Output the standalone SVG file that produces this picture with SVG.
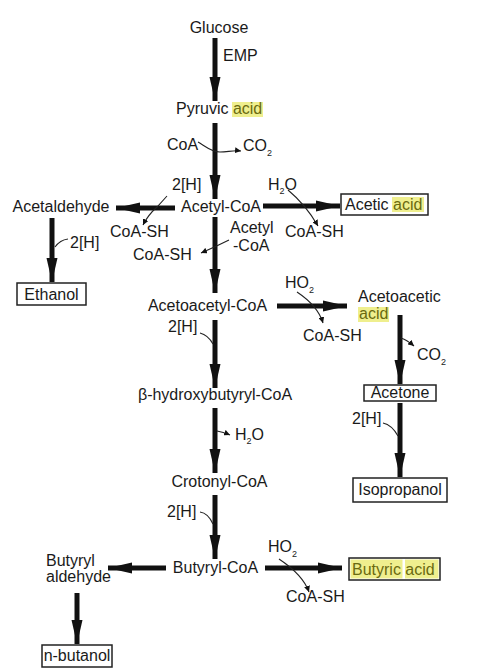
<svg xmlns="http://www.w3.org/2000/svg" width="479" height="670" viewBox="0 0 479 670">
<defs>
<marker id="big" markerUnits="userSpaceOnUse" markerWidth="26" markerHeight="12" refX="24" refY="6" orient="auto">
<path d="M0,0.5 L24,6 L0,11.5 Z" fill="#111"/>
</marker>
<marker id="small" markerUnits="userSpaceOnUse" markerWidth="7" markerHeight="6" refX="6" refY="3" orient="auto">
<path d="M0,0 L6,3 L0,6 Z" fill="#111"/>
</marker>
<style>
text{font-family:"Liberation Sans",Arial,sans-serif;font-size:16px;fill:#1a1a1a}
.sub{font-size:9px}
.hl{fill:#6a6a10}
.hb{fill:#efef8e}
.box{fill:#fff;stroke:#222;stroke-width:1.5}
.main{stroke:#111;stroke-width:5;fill:none;marker-end:url(#big)}
.thin{stroke:#222;stroke-width:1.1;fill:none;marker-end:url(#small)}
.thinn{stroke:#222;stroke-width:1.1;fill:none}
</style>
</defs>
<rect width="479" height="670" fill="#fff"/>

<g id="connectors">
<line class="main" x1="215" y1="38" x2="215" y2="101"/>
<line class="main" x1="215" y1="123" x2="215" y2="199"/>
<line class="main" x1="175" y1="208" x2="116" y2="208"/>
<line class="main" x1="263" y1="206" x2="340" y2="206"/>
<line class="main" x1="52" y1="218" x2="52" y2="282"/>
<line class="main" x1="215" y1="217" x2="215" y2="293"/>
<line class="main" x1="277" y1="306" x2="347" y2="306"/>
<line class="main" x1="215" y1="320" x2="215" y2="388"/>
<line class="main" x1="400" y1="315" x2="400" y2="384"/>
<line class="main" x1="400" y1="403" x2="400" y2="477"/>
<line class="main" x1="215" y1="408" x2="215" y2="473"/>
<line class="main" x1="215" y1="495" x2="215" y2="559"/>
<line class="main" x1="166" y1="568" x2="108" y2="568"/>
<line class="main" x1="265" y1="568" x2="342" y2="568"/>
<line class="main" x1="77" y1="593" x2="77" y2="644"/>

<path class="thin" d="M198,142 C205,146 211,152 220,152 C228,152 233,150 241,151"/>
<path class="thin" d="M167,196 L157,207 Q148,215 143,225"/>
<path class="thin" d="M288,190 Q306,205 318,226"/>
<path class="thin" d="M229,240 Q215,247 201,253"/>
<path class="thinn" d="M68,239 Q60,240 55,247"/>
<path class="thin" d="M297,292 Q318,306 323,323"/>
<path class="thin" d="M401,338 Q407,340 414,346"/>
<path class="thinn" d="M200,333 Q208,335 213,344"/>
<path class="thin" d="M217,431 Q223,432 230,435"/>
<path class="thinn" d="M383,423 Q392,425 398,436"/>
<path class="thinn" d="M200,512 Q208,513 213,524"/>
<path class="thin" d="M279,559 Q303,575 309,592"/>
</g>

<g id="glucose"><text x="219" y="33" text-anchor="middle">Glucose</text></g>
<g id="emp"><text x="223" y="61">EMP</text></g>
<g id="pyruvic">
<rect class="hb" x="232" y="102" width="31" height="15"/>
<text x="176" y="114">Pyruvic <tspan class="hl">acid</tspan></text>
</g>
<g id="coa1"><text x="167" y="150">CoA</text></g>
<g id="co2a"><text x="243" y="151">CO<tspan class="sub" dy="5">2</tspan></text></g>
<g id="h2a"><text x="172" y="190">2[H]</text></g>
<g id="h2o1"><text x="268" y="190">H<tspan class="sub" dy="4">2</tspan><tspan dy="-4">O</tspan></text></g>
<g id="acetylcoa"><text x="221" y="212" text-anchor="middle">Acetyl-CoA</text></g>
<g id="acetaldehyde"><text x="61" y="212" text-anchor="middle">Acetaldehyde</text></g>
<g id="acetic">
<rect class="box" x="341" y="194" width="87" height="21"/>
<rect class="hb" x="392" y="197" width="32" height="15"/>
<text x="345" y="210">Acetic <tspan class="hl">acid</tspan></text>
</g>
<g id="coash1"><text x="110" y="237">CoA-SH</text></g>
<g id="coash2"><text x="285" y="237">CoA-SH</text></g>
<g id="acetylcoa2"><text x="230" y="233">Acetyl</text><text x="233" y="251">-CoA</text></g>
<g id="coash3"><text x="133" y="260">CoA-SH</text></g>
<g id="h2b"><text x="70" y="248">2[H]</text></g>
<g id="ethanol">
<rect class="box" x="17" y="283" width="69" height="22"/>
<text x="51.5" y="300" text-anchor="middle">Ethanol</text>
</g>
<g id="acetoacetylcoa"><text x="207.5" y="311" text-anchor="middle">Acetoacetyl-CoA</text></g>
<g id="ho2a"><text x="285" y="288">HO<tspan class="sub" dy="5">2</tspan></text></g>
<g id="coash4"><text x="303" y="341">CoA-SH</text></g>
<g id="acetoacetic">
<rect class="hb" x="358" y="307" width="31" height="15"/>
<text x="358" y="302">Acetoacetic</text>
<text x="359" y="319" class="hl">acid</text>
</g>
<g id="co2b"><text x="417" y="360">CO<tspan class="sub" dy="5">2</tspan></text></g>
<g id="acetone">
<rect class="box" x="364" y="385" width="72" height="16"/>
<text x="400" y="398" text-anchor="middle">Acetone</text>
</g>
<g id="h2c"><text x="352" y="424">2[H]</text></g>
<g id="isopropanol">
<rect class="box" x="353" y="478" width="94" height="24"/>
<text x="400" y="495" text-anchor="middle">Isopropanol</text>
</g>
<g id="h2d"><text x="168" y="332">2[H]</text></g>
<g id="hydroxybutyryl"><text x="215" y="400" text-anchor="middle">β-hydroxybutyryl-CoA</text></g>
<g id="h2o2"><text x="235" y="440">H<tspan class="sub" dy="4">2</tspan><tspan dy="-4">O</tspan></text></g>
<g id="crotonyl"><text x="219.5" y="487" text-anchor="middle">Crotonyl-CoA</text></g>
<g id="h2e"><text x="167" y="517">2[H]</text></g>
<g id="butyrylcoa"><text x="215.5" y="573" text-anchor="middle">Butyryl-CoA</text></g>
<g id="butyrylald"><text x="46" y="566">Butyryl</text><text x="46" y="582">aldehyde</text></g>
<g id="nbutanol">
<rect class="box" x="42" y="645" width="70" height="22"/>
<text x="77" y="661" text-anchor="middle">n-butanol</text>
</g>
<g id="ho2b"><text x="268" y="552">HO<tspan class="sub" dy="5">2</tspan></text></g>
<g id="coash5"><text x="286" y="602">CoA-SH</text></g>
<g id="butyric">
<rect class="box" x="349" y="558" width="91" height="22"/>
<rect class="hb" x="350.5" y="559.5" width="52" height="19"/>
<rect class="hb" x="405" y="559.5" width="33.5" height="19"/>
<text x="352" y="575" class="hl">Butyric <tspan>acid</tspan></text>
</g>
</svg>
